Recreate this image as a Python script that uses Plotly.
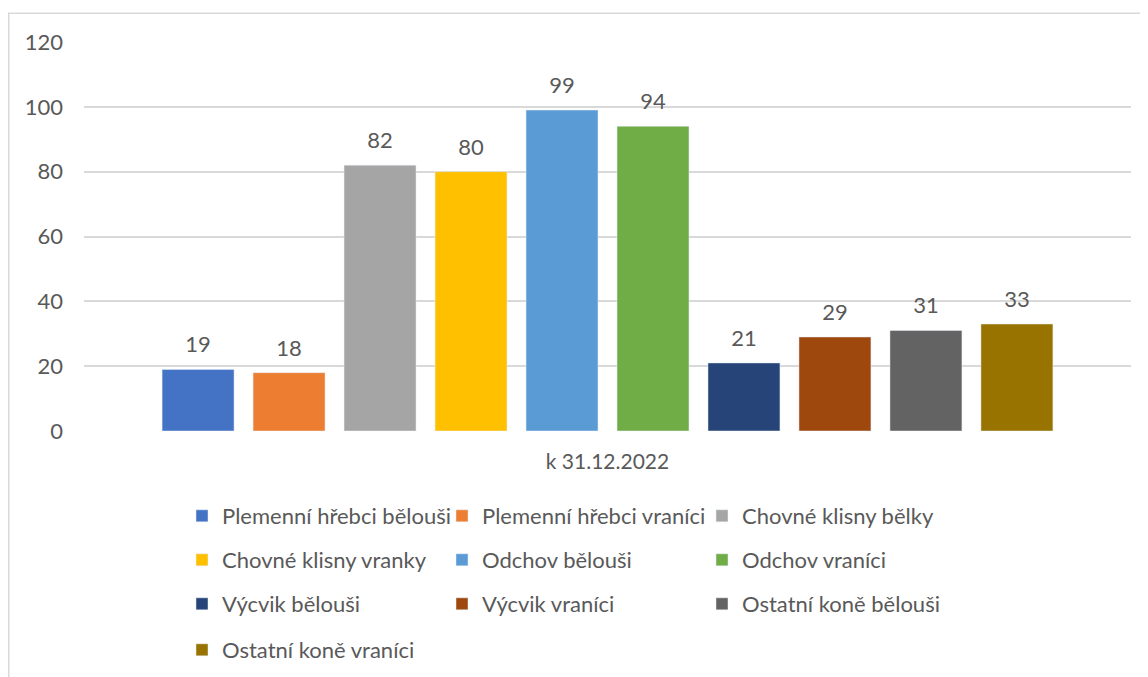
import plotly.graph_objects as go

category = ["k 31.12.2022"]
series_names = [
    "Plemenní hřebci bělouši", "Plemenní hřebci vraníci", "Chovné klisny bělky",
    "Chovné klisny vranky", "Odchov bělouši", "Odchov vraníci",
    "Výcvik bělouši", "Výcvik vraníci", "Ostatní koně bělouši",
    "Ostatní koně vraníci",
]
values = [19, 18, 82, 80, 99, 94, 21, 29, 31, 33]
colors = ["#4472C4", "#ED7D31", "#A5A5A5", "#FFC000", "#5B9BD5", "#70AD47",
          "#264478", "#9E480E", "#636363", "#997300"]
y_ticks = [0, 20, 40, 60, 80, 100, 120]

FONT = "Lato"
TXT = "#595959"
FS_NUM = 22
FS_LEG = 22
FS_CAT = 21

# page body has an 8px margin: figure pixel = reference pixel - 8
OFF = 8
W, H = 1140, 669
L, T = 84 - OFF, 42 - OFF
PR, PB = 1131 - OFF, 431 - OFF
R, B = W - PR, H - PB
pw, ph = PR - L, PB - T

def px2x(ref_px):
    return (ref_px - OFF - L) / pw

def px2y(ref_py):
    return (PB - (ref_py - OFF)) / ph

GAP = 0.131
legend_rows = [[0, 1, 2], [3, 4, 5], [6, 7, 8], [9]]
row_y = [516, 560, 604, 650]
legend_keys = ["legend", "legend2", "legend3", "legend4"]
trace_legend = {}
for r, idxs in enumerate(legend_rows):
    for i in idxs:
        trace_legend[i] = legend_keys[r]

fig = go.Figure()
for i, (name, v, c) in enumerate(zip(series_names, values, colors)):
    fig.add_trace(go.Bar(
        x=category, y=[v], name=name, marker_color=c,
        legend=trace_legend[i], hovertemplate="%{y}<extra>" + name + "</extra>",
    ))
# data labels (grouped scatter so they sit over the matching bar)
for i, (name, v) in enumerate(zip(series_names, values)):
    fig.add_trace(go.Scatter(
        x=category, y=[v], mode="markers+text", text=[str(v)],
        textposition="top center", orientation="v",
        marker=dict(size=17, color="rgba(0,0,0,0)"),
        textfont=dict(family=FONT, size=FS_NUM, color=TXT),
        showlegend=False, hoverinfo="skip", cliponaxis=False,
    ))

legend_common = dict(
    orientation="h", xanchor="left", yanchor="middle",
    font=dict(family=FONT, size=FS_LEG, color=TXT),
    entrywidth=215, entrywidthmode="pixels",
    bgcolor="rgba(0,0,0,0)", itemclick=False, itemdoubleclick=False,
)
layout_legends = {}
for k, ry in zip(legend_keys, row_y):
    layout_legends[k] = dict(legend_common, x=px2x(182), y=px2y(ry))

fig.update_layout(
    width=W, height=H,
    margin=dict(l=L, r=R, t=T, b=B, autoexpand=False),
    paper_bgcolor="white", plot_bgcolor="white",
    barmode="group", bargap=GAP, bargroupgap=0.209,
    scattermode="group", scattergap=GAP,
    showlegend=True,
    font=dict(family=FONT, size=FS_NUM, color=TXT),
    xaxis=dict(showgrid=False, showline=False, zeroline=False, ticks="",
               ticklabelstandoff=16,
               tickfont=dict(family=FONT, size=FS_CAT, color=TXT)),
    yaxis=dict(range=[0, 120], tickvals=y_ticks, showgrid=True,
               gridcolor="#D9D9D9", gridwidth=1.5, zeroline=False,
               showline=False, ticks="", ticklabelstandoff=20,
               tickfont=dict(family=FONT, size=FS_NUM, color=TXT)),
    shapes=[dict(type="rect", xref="paper", yref="paper",
                 x0=(0.75 - L) / pw, x1=(W + 20 - L) / pw,
                 y0=(PB - (H + 20)) / ph, y1=(PB - 5.3) / ph,
                 line=dict(color="#D9D9D9", width=1.5), layer="below")],
    **layout_legends,
)

fig.write_html("out.html")
